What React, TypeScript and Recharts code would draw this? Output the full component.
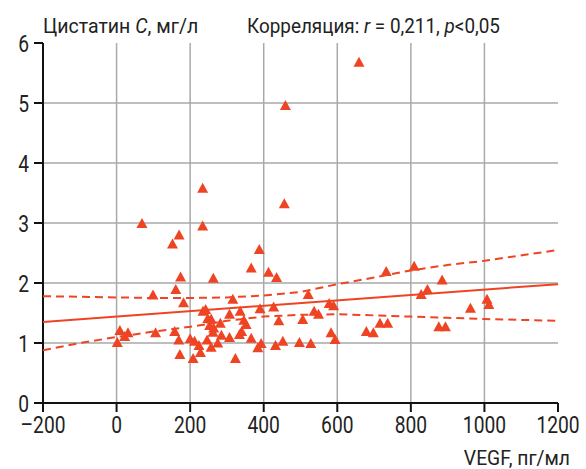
import { ScatterChart, Scatter, XAxis, YAxis, CartesianGrid } from "recharts"

const FONT = "Roboto, 'Liberation Sans', sans-serif"
const RED = "#ef4423"
const INK = "#222"

const xTicks = [-200, 0, 200, 400, 600, 800, 1000, 1200]
const yTicks = [0, 1, 2, 3, 4, 5, 6]
const gridX = [0, 200, 400, 600, 800, 1000]
const gridY = [1, 2, 3, 4, 5]

// VEGF (pg/ml) and cystatin C (mg/l) per patient
const vegf = [
  659, 459, 456, 234, 69, 234, 170, 152, 388, 366, 413, 435, 174, 263, 99, 161, 182, 316, 521, 235,
  242, 248, 257, 253, 264, 282, 262, 285, 9, 22, 31, 2, 106, 158, 169, 172, 200, 212, 224, 208,
  228, 246, 257, 275, 307, 336, 390, 427, 537, 549, 578, 590, 346, 352, 441, 506, 307, 334, 340, 366,
  393, 384, 432, 452, 497, 528, 583, 594, 323, 733, 809, 885, 828, 845, 716, 737, 679, 698, 876, 894,
  962, 1007, 1012,
]
const cystatin = [
  5.68, 4.96, 3.32, 3.58, 2.99, 2.95, 2.8, 2.65, 2.56, 2.25, 2.18, 2.09, 2.1, 2.08, 1.8, 1.89, 1.67, 1.73, 1.81, 1.53,
  1.56, 1.41, 1.4, 1.29, 1.25, 1.33, 1.18, 1.13, 1.21, 1.11, 1.17, 1.01, 1.17, 1.19, 1.05, 0.81, 1.07, 1.03, 0.96, 0.74,
  0.84, 1.05, 0.93, 1.0, 1.48, 1.53, 1.57, 1.6, 1.53, 1.48, 1.66, 1.62, 1.38, 1.31, 1.37, 1.39, 1.09, 1.14, 1.19, 1.08,
  0.99, 0.92, 0.96, 1.03, 1.01, 0.99, 1.17, 1.06, 0.74, 2.19, 2.28, 2.05, 1.81, 1.89, 1.33, 1.33, 1.19, 1.17, 1.27, 1.27,
  1.58, 1.73, 1.64,
]

// regression line and its confidence band
const fitX = [-200, 1200]
const fitY = [1.35, 1.98]
const bandX = [-200, -100, 0, 100, 200, 300, 400, 500, 600, 700, 800, 900, 1000, 1200]
const upperY = [1.78, 1.77, 1.76, 1.75, 1.75, 1.76, 1.79, 1.85, 1.98, 2.09, 2.21, 2.3, 2.37, 2.55]
const lowerY = [0.88, 1.0, 1.1, 1.19, 1.27, 1.37, 1.44, 1.47, 1.48, 1.46, 1.44, 1.42, 1.4, 1.37]

const points = vegf.map((x, i) => ({ x, y: cystatin[i] }))
const fit = fitX.map((x, i) => ({ x, y: fitY[i] }))
const upper = bandX.map((x, i) => ({ x, y: upperY[i] }))
const lower = bandX.map((x, i) => ({ x, y: lowerY[i] }))

const Triangle = (props: any) => {
  const { cx, cy } = props
  if (cx == null || cy == null) return null
  return <polygon points={`${cx - 5.5},${cy + 4.5} ${cx + 5.5},${cy + 4.5} ${cx},${cy - 5.5}`} fill={RED} />
}

const fmtX = (v: number) => (v < 0 ? "\u2013" + Math.abs(v) : String(v))

// condensed look: squeeze Roboto horizontally
const XTick = ({ x, y, payload }: any) => (
  <g transform={`translate(${x},${y})`}>
    <text transform="scale(0.8,1)" textAnchor="middle" dy="0.71em" fontSize={24} fontFamily={FONT} fill={INK}>
      {fmtX(payload.value)}
    </text>
  </g>
)

const YTick = ({ x, y, payload }: any) => (
  <g transform={`translate(${x},${y})`}>
    <text transform="scale(0.8,1)" textAnchor="end" dy="0.36em" fontSize={24} fontFamily={FONT} fill={INK}>
      {payload.value}
    </text>
  </g>
)

const Label = ({ x, y, sx, anchor = "start", children }: any) => (
  <g transform={`translate(${x},${y}) scale(${sx},1)`}>
    <text fontSize={21} fontFamily={FONT} fill={INK} textAnchor={anchor}>
      {children}
    </text>
  </g>
)

export default function App() {
  return (
    <div style={{ position: "absolute", left: 0, top: 0, width: 586, height: 469, background: "#fff" }}>
      <ScatterChart width={586} height={469} margin={{ top: 43, right: 28, left: 0, bottom: 0 }}>
        <CartesianGrid horizontalValues={gridY} verticalValues={gridX} stroke="#a9a9a9" strokeWidth={1.5} />
        <XAxis
          type="number"
          dataKey="x"
          domain={[-200, 1200]}
          ticks={xTicks}
          height={66}
          tickSize={9}
          tickMargin={4}
          axisLine={{ stroke: "#111", strokeWidth: 2 }}
          tickLine={{ stroke: "#111", strokeWidth: 2 }}
          tick={<XTick />}
          interval={0}
        />
        <YAxis
          type="number"
          dataKey="y"
          domain={[0, 6]}
          ticks={yTicks}
          width={43}
          tickSize={9}
          tickMargin={5}
          axisLine={{ stroke: "#111", strokeWidth: 2 }}
          tickLine={{ stroke: "#111", strokeWidth: 2 }}
          tick={<YTick />}
          interval={0}
        />
        <Scatter data={upper} line={{ stroke: RED, strokeWidth: 2, strokeDasharray: "8 5" }} shape={() => <g />} isAnimationActive={false} />
        <Scatter data={lower} line={{ stroke: RED, strokeWidth: 2, strokeDasharray: "8 5" }} shape={() => <g />} isAnimationActive={false} />
        <Scatter data={fit} line={{ stroke: RED, strokeWidth: 2 }} shape={() => <g />} isAnimationActive={false} />
        <Scatter data={points} shape={Triangle} isAnimationActive={false} />
      </ScatterChart>
      <svg width={586} height={469} style={{ position: "absolute", left: 0, top: 0, pointerEvents: "none" }}>
        <Label x={43} y={33} sx={0.93}>
          Цистатин <tspan fontStyle="italic">C</tspan>, мг/л
        </Label>
        <Label x={247} y={33} sx={0.9}>
          Корреляция: <tspan fontStyle="italic">r</tspan> = 0,211, <tspan fontStyle="italic">p</tspan>&lt;0,05
        </Label>
        <Label x={570} y={465} sx={0.92} anchor="end">
          VEGF, пг/мл
        </Label>
      </svg>
    </div>
  )
}
